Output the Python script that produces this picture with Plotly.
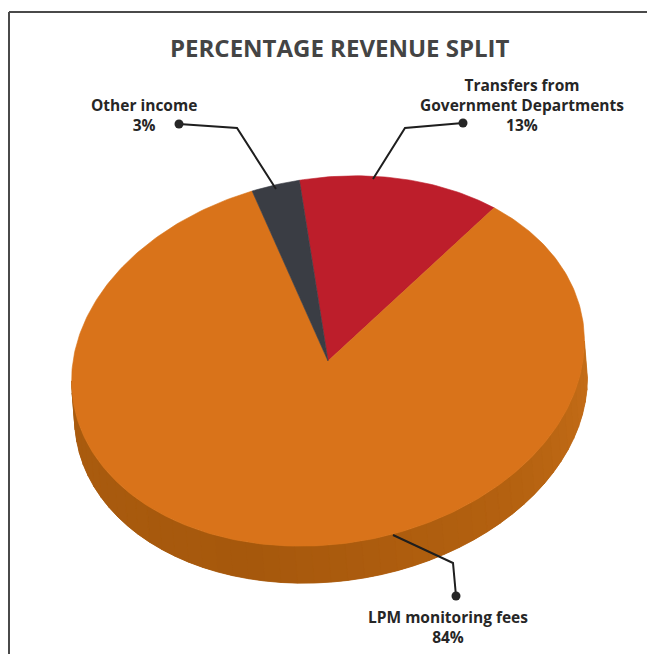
import numpy as np
import plotly.graph_objects as go

# ---- data -------------------------------------------------------------
categories = ["Transfers from Government Departments", "LPM monitoring fees", "Other income"]
label_text = ["Transfers from<br>Government Departments", "LPM monitoring fees", "Other income"]
shares = [13, 84, 3]          # percent, drawn clockwise from 12 o'clock
slice_colors = ["#BD1E2B", "#D9731A", "#3A3D44"]

# ---- geometry of the tilted 3-D disc (pixel space) -------------------
W, H = 647, 654
cx, cy = 328, 361
a, b = 258, 183               # semi axes of the top face
tilt = np.radians(9)          # right side raised
ddx, ddy = 3, 37              # extrusion offset of the side wall


def rim(phi):
    """Point on the top-face rim, phi clockwise from top (radians)."""
    x = a * np.sin(phi)
    y = -b * np.cos(phi)
    xs = x * np.cos(tilt) + y * np.sin(tilt)
    ys = -x * np.sin(tilt) + y * np.cos(tilt)
    return cx + xs, cy + ys


fig = go.Figure()

# ---- side wall (front half only) ---------------------------------------
phi_r = np.arctan2(a * np.cos(tilt), -b * np.sin(tilt))
phi_l = np.arctan2(-a * np.cos(tilt), b * np.sin(tilt)) + 2 * np.pi

stops = [(0.0, (198, 110, 24)), (0.25, (180, 97, 16)), (0.6, (166, 88, 12)), (1.0, (170, 92, 15))]


def side_color(t):
    for (t0, c0), (t1, c1) in zip(stops[:-1], stops[1:]):
        if t <= t1:
            f = (t - t0) / (t1 - t0)
            c = [round(c0[i] + (c1[i] - c0[i]) * f) for i in range(3)]
            return "rgb({},{},{})".format(*c)
    return "rgb({},{},{})".format(*stops[-1][1])


# base fill of the wall
ph = np.linspace(phi_r, phi_l, 200)
rx, ry = rim(ph)
bx = np.concatenate([rx, (rx + ddx)[::-1], [rx[0]]])
by = np.concatenate([ry, (ry + ddy)[::-1], [ry[0]]])
fig.add_trace(go.Scatter(x=bx, y=by, mode="lines", fill="toself",
                         fillcolor=side_color(0.5), line=dict(width=0),
                         hoverinfo="skip", showlegend=False))

n_strips = 48
edges = np.linspace(phi_r, phi_l, n_strips + 1)
for i in range(n_strips):
    p = np.linspace(edges[i], edges[i + 1], 6)
    sx, sy = rim(p)
    qx = np.concatenate([sx, (sx + ddx)[::-1], [sx[0]]])
    qy = np.concatenate([sy, (sy + ddy)[::-1], [sy[0]]])
    col = side_color((i + 0.5) / n_strips)
    fig.add_trace(go.Scatter(x=qx, y=qy, mode="lines", fill="toself",
                             fillcolor=col, line=dict(width=0.8, color=col),
                             hoverinfo="skip", showlegend=False))

# ---- top face slices ---------------------------------------------------
total = float(sum(shares))
start = 0.0
for name, val, col in zip(categories, shares, slice_colors):
    span = 2 * np.pi * val / total
    p = np.linspace(start, start + span, max(8, int(val * 4)))
    sx, sy = rim(p)
    xs = np.concatenate([[cx], sx, [cx]])
    ys = np.concatenate([[cy], sy, [cy]])
    fig.add_trace(go.Scatter(x=xs, y=ys, mode="lines", fill="toself",
                             fillcolor=col, line=dict(width=0.6, color=col),
                             name=name, hoverinfo="name", showlegend=False))
    start += span

# ---- leader lines and labels ------------------------------------------
leaders = {
    "Other income": [(276, 189), (237, 128), (179, 124)],
    "Transfers from Government Departments": [(373, 179), (405, 128), (463, 123)],
    "LPM monitoring fees": [(393, 535), (453, 563), (456, 596)],
}
label_pos = {
    "Other income": (144, 115),
    "Transfers from Government Departments": (522, 105),
    "LPM monitoring fees": (448, 627),
}

for name, txt, val in zip(categories, label_text, shares):
    pts = leaders[name]
    fig.add_trace(go.Scatter(x=[p[0] for p in pts], y=[p[1] for p in pts],
                             mode="lines", line=dict(color="#1E1E1E", width=2),
                             hoverinfo="skip", showlegend=False))
    fig.add_trace(go.Scatter(x=[pts[-1][0]], y=[pts[-1][1]], mode="markers",
                             marker=dict(size=9, color="#262626"),
                             hoverinfo="skip", showlegend=False))
    lx, ly = label_pos[name]
    fig.add_annotation(x=lx, y=ly, xref="x", yref="y", showarrow=False,
                       text="<b>{}<br>{}%</b>".format(txt, val),
                       font=dict(family="Open Sans", size=15.5, color="#262626"),
                       align="center", xanchor="center", yanchor="middle")

# ---- title and frame ---------------------------------------------------
fig.add_annotation(x=340, y=47, xref="x", yref="y", showarrow=False,
                   text="<b>PERCENTAGE REVENUE SPLIT</b>",
                   font=dict(family="Open Sans", size=24, color="#444444"),
                   xanchor="center", yanchor="middle")

fig.add_shape(type="line", x0=9, y0=12, x1=W, y1=12, xref="x", yref="y",
              line=dict(color="#4A4A4A", width=2))
fig.add_shape(type="line", x0=9, y0=12, x1=9, y1=H, xref="x", yref="y",
              line=dict(color="#4A4A4A", width=2))

fig.update_layout(
    width=W, height=H, autosize=False,
    margin=dict(l=0, r=0, t=0, b=0),
    paper_bgcolor="white", plot_bgcolor="white",
    xaxis=dict(range=[0, W], visible=False, fixedrange=True),
    yaxis=dict(range=[H, 0], visible=False, fixedrange=True),
    showlegend=False,
)

fig.write_html("out.html")
